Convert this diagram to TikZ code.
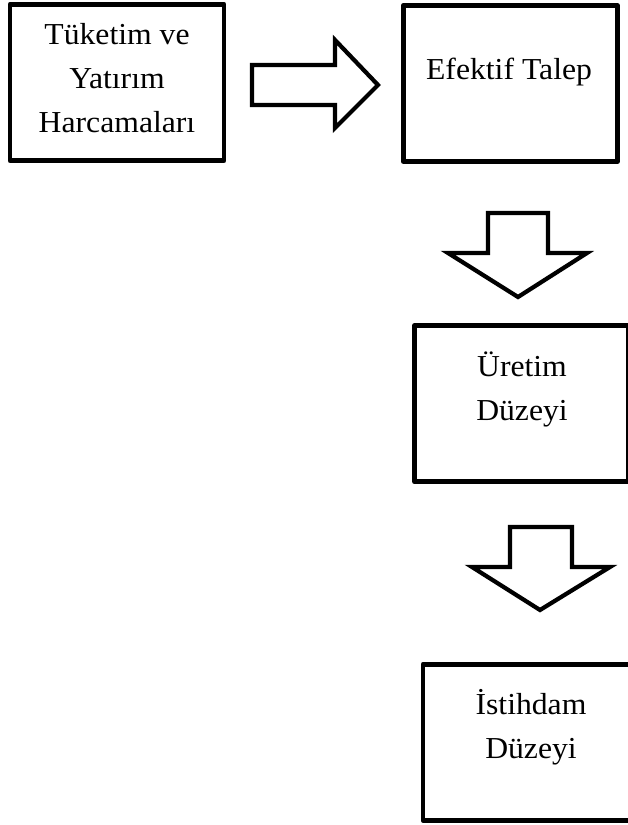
\documentclass[tikz,border=0pt]{standalone}
\usepackage{fontspec}
\setmainfont[FakeStretch=1.04]{Liberation Serif}
\usepackage{tikz}
\usetikzlibrary{positioning}
\tikzset{
kutu/.style={draw=black, line width=4.2pt, rectangle, line join=round, inner sep=0pt, outer sep=0pt, minimum width=6.42cm, minimum height=4.68cm},
kutuyazi/.style={align=center, inner sep=0pt, font=\fontsize{26}{37.5}\selectfont},
blokok/.style={draw=black, line width=3.6pt, fill=white, line join=miter},
}

\begin{document}
\begin{tikzpicture}[x=0.03cm, y=-0.03cm]
\useasboundingbox (0,0) rectangle (628,825);
\clip (0,0) rectangle (628,825);

\node[kutu] (harcama) at (117,82.5) {};
\node[kutuyazi] (harcamaYazi) at (117,78) {Tüketim ve\\Yatırım\\Harcamaları};

\node[kutu] (talep) at (510.25,83.5) {};
\node[kutuyazi, anchor=base] (talepYazi) at (509,80) {Efektif Talep};

\node[kutu] (uretim) at (521.5,403.75) {};
\node[kutuyazi] (uretimYazi) at (522,389) {Üretim\\Düzeyi};

\node[kutu, minimum width=6.81cm] (istihdam) at (536.5,742.25) {};
\node[kutuyazi] (istihdamYazi) at (531,727) {İstihdam\\Düzeyi};

% harcama -> talep
\draw[blokok] (252,65) -- (335,65) -- (335,40) -- (378,85) -- (335,128) -- (335,105) -- (252,105) -- cycle;

% talep -> uretim
\draw[blokok] (488,213) -- (548,213) -- (548,253) -- (587,253) -- (518,297) -- (448,253) -- (488,253) -- cycle;

% uretim -> istihdam
\draw[blokok] (510,527) -- (572,527) -- (572,567) -- (610,567) -- (540,610) -- (472,567) -- (510,567) -- cycle;

\end{tikzpicture}
\end{document}
